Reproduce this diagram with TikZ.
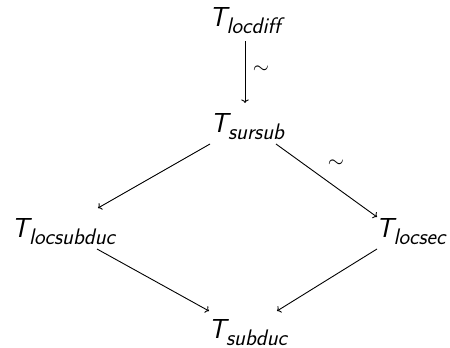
\documentclass[tikz,border=0pt]{standalone}
\usetikzlibrary{arrows.meta}
\DeclareMathAlphabet{\mathsfsl}{TU}{lmss}{m}{sl}
\DeclareMathSizes{27.5}{27.5}{22.5}{17}
\newcommand{\Tn}[1]{$\mathsfsl{T}_{\mathsfsl{#1}}$}
\begin{document}
\begin{tikzpicture}[x=1pt,y=-1pt,
  obj/.style={inner sep=0pt, anchor=base, font=\fontsize{27.5}{33}\selectfont},
  arr/.style={line width=0.9pt, -{Computer Modern Rightarrow}},
  lbl/.style={font=\fontsize{21}{25}\selectfont, inner sep=0pt}]
\useasboundingbox (0,0) rectangle (450,348);
\node[obj] (locdiff) at (245,26) {\Tn{locdiff}};
\node[obj] (sursub) at (247.5,132) {\Tn{sursub}};
\node[obj] (locsubduc) at (63.5,237) {\Tn{locsubduc}};
\node[obj] (locsec) at (411,237) {\Tn{locsec}};
\node[obj] (subduc) at (248,338) {\Tn{subduc}};
\draw[arr] ([shift={(0,15)}]locdiff.base) -- node[lbl, pos=0.47, xshift=16pt] {$\sim$} ([shift={(-2.5,-29)}]sursub.base);
\draw[arr] ([shift={(-37.5,12)}]sursub.base) -- ([shift={(34.5,-29)}]locsubduc.base);
\draw[arr] ([shift={(28.5,12)}]sursub.base) -- node[lbl, pos=0.594, yshift=24pt] {$\sim$} ([shift={(-34,-20)}]locsec.base);
\draw[arr] ([shift={(33.5,12)}]locsubduc.base) -- ([shift={(-39,-27)}]subduc.base);
\draw[arr] ([shift={(-34,12)}]locsec.base) -- ([shift={(29,-27)}]subduc.base);
\end{tikzpicture}
\end{document}
